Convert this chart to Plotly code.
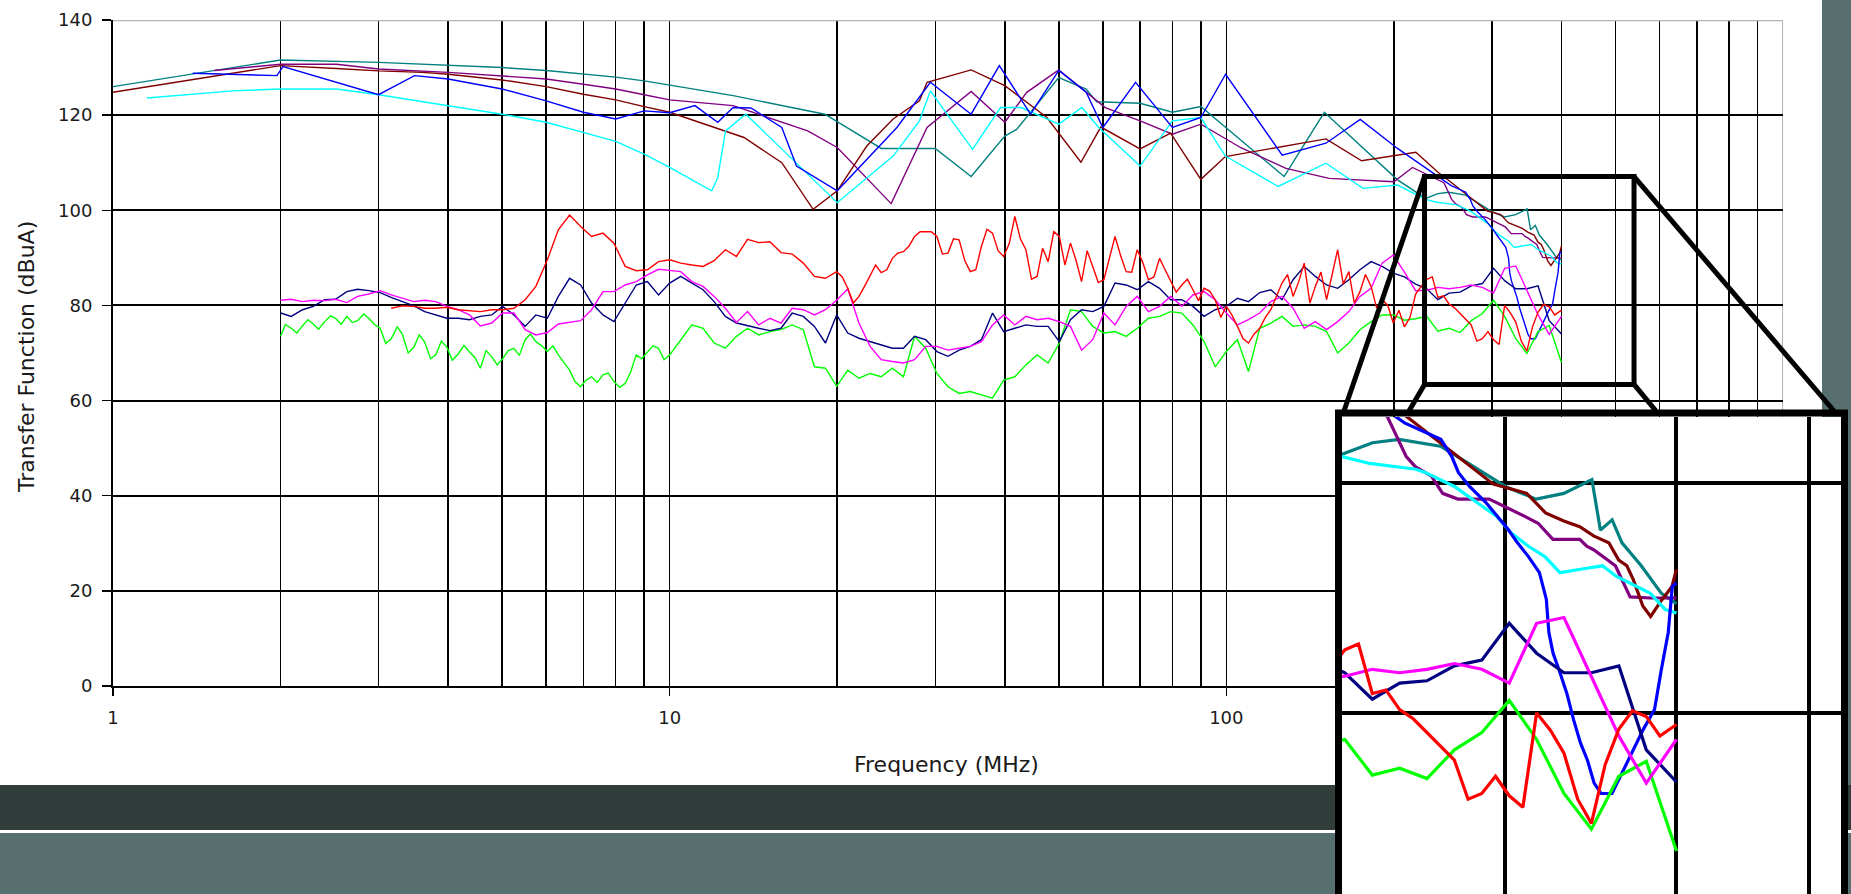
import math
import plotly.graph_objects as go

# ------------------------------------------------------------------ data
# common frequency grid (MHz) of the four measured (noisy) curves
FREQ_NOISY = [
    2.00, 2.09, 2.19, 2.29, 2.40, 2.51, 2.63, 2.75, 2.88, 3.02,
    3.16, 3.31, 3.47, 3.63, 3.80, 3.98, 4.17, 4.37, 4.57, 4.79,
    5.01, 5.25, 5.50, 5.75, 6.03, 6.31, 6.61, 6.92, 7.24, 7.59,
    7.94, 8.32, 8.71, 9.12, 9.55, 10.0,
    10.47, 10.96, 11.48, 12.02, 12.59, 13.18, 13.80, 14.45, 15.14, 15.85,
    16.60, 17.38, 18.20, 19.05, 19.95, 20.89, 21.88, 22.91, 23.99, 25.12,
    26.30, 27.54, 28.84, 30.20, 31.62, 33.11, 34.67, 36.31, 38.02, 39.81,
    41.69, 43.65, 45.71, 47.86, 50.12, 52.48, 54.95, 57.54, 60.26, 63.10,
    66.07, 69.18, 72.44, 75.86, 79.43, 83.18, 87.10, 91.20, 95.50, 100.0,
    104.7, 109.6, 114.8, 120.2, 125.9, 131.8, 138.0, 144.5, 151.4, 158.5,
    166.0, 173.8, 182.0, 190.5, 199.5, 208.9, 218.8, 229.1, 239.9, 251.2,
    263.0, 275.4, 288.4, 302.0, 316.2, 331.1, 346.7, 363.1, 380.2, 400.0,
]
# in-between frequencies where extra readings were taken (MHz)
FREQ_MID = [
    2.04, 2.14, 2.24, 2.34, 2.46, 2.57, 2.69, 2.82, 2.95, 3.09,
    3.24, 3.39, 3.55, 3.72, 3.89, 4.07, 4.27, 4.47, 4.68, 4.90,
    5.13, 5.37, 5.62, 5.89, 6.17, 6.46, 6.76, 7.08, 7.41, 7.76,
    8.13, 8.51, 8.91, 9.33, 9.77,
    10.23, 10.72, 11.22, 11.75, 12.30, 12.88, 13.49, 14.13, 14.79, 15.49,
    16.22, 16.98, 17.78, 18.62, 19.50, 20.42, 21.38, 22.39, 23.44, 24.55,
    25.70, 26.92, 28.18, 29.51, 30.90, 32.36, 33.88, 35.48, 37.15, 38.90,
    40.74, 42.66, 44.67, 46.77, 48.98, 51.29, 53.70, 56.23, 58.88, 61.66,
    64.57, 67.61, 70.79, 74.13, 77.62, 81.28, 85.11, 89.13, 93.33, 97.72,
    102.3, 107.2, 112.2, 117.5, 123.0, 128.8, 134.9, 141.3, 147.9, 154.9,
    162.2, 169.8, 177.8, 186.2, 195.0, 204.2, 213.8, 223.9, 234.4, 245.5,
    257.0, 269.2, 281.8, 295.1, 309.0, 323.6, 338.8, 354.8, 371.5, 389.0,
]

NAVY_DB = [
    78.4, 77.7, 79.1, 79.8, 81.2, 81.3, 82.9, 83.4, 83.1, 82.7,
    81.7, 80.8, 79.9, 78.7, 78.0, 77.3, 77.3, 77.0, 77.7, 78.0,
    79.8, 78.0, 75.6, 78.0, 77.3, 81.9, 85.7, 84.3, 80.5, 78.0,
    76.6, 80.5, 84.3, 85.0, 82.2, 84.7, 86.1, 84.7, 83.3, 80.8,
    77.7, 76.3, 75.7, 75.2, 74.7, 75.2, 78.4, 77.7, 75.6, 72.1,
    78.0,
    74.2, 73.1, 72.4, 71.7, 71.0, 71.0, 73.5, 72.8, 70.3, 69.3,
    70.6, 71.4, 72.8, 78.4, 74.5, 75.2, 75.9, 75.6, 75.6, 72.4,
    77.0, 79.1, 78.7, 79.8, 84.7, 84.3, 83.3, 85.0, 83.6, 81.2,
    81.2, 79.8, 77.7, 79.1, 79.8, 81.5, 80.8, 82.7, 83.3, 81.2,
    85.4, 88.2, 86.1, 84.3, 83.6, 85.4, 87.5, 89.2, 88.2, 86.8,
    86.0, 84.5, 83.5, 81.2, 82.6, 82.8, 84.1, 84.6, 87.8, 85.2,
    83.5, 83.5, 84.1, 76.8, 74.0,
]

MAGENTA_DB = [
    81.1, 81.3, 80.8, 81.1, 81.0, 81.3, 80.6, 81.9, 82.4, 83.1,
    82.2, 81.5, 80.8, 81.1, 80.8, 79.8, 79.1, 78.0, 75.7, 76.3,
    78.4, 78.4, 74.9, 73.8, 74.3, 76.1, 76.4, 76.8, 79.1, 82.9,
    82.9, 84.3, 85.0, 86.4, 87.6, 87.3, 87.1, 85.0, 84.0, 81.9,
    79.4, 76.4, 78.7, 75.9, 77.3, 76.3, 79.4, 79.1, 78.0, 79.1,
    81.1,
    83.5, 76.3, 71.4, 68.6, 68.2, 67.9, 68.6, 71.4, 71.4, 70.6,
    71.0, 71.4, 72.4, 75.9, 78.0, 75.9, 77.7, 77.0, 77.3, 76.6,
    75.6, 70.6, 72.8, 78.4, 75.9, 79.8, 81.9, 78.7, 79.8, 81.9,
    79.8, 82.2, 82.9, 81.2, 78.4, 75.9, 77.0, 78.4, 80.8, 81.9,
    79.4, 75.2, 76.6, 74.9, 76.6, 78.7, 81.9, 83.6, 88.9, 90.6,
    87.0, 83.1, 83.2, 83.8, 83.5, 83.8, 84.3, 83.8, 82.6, 87.8,
    88.3, 83.2, 78.0, 73.9, 77.7,
]

RED_DB = [
    None, None, None, None, None, None, None, None, None, None,
    79.4, 79.9, 79.8, 79.4, 79.4, 79.6, 79.1, 78.9, 78.7, 79.1,
    79.1, 79.4, 81.2, 84.0, 89.6, 95.9, 99.0, 96.6, 94.5, 95.2,
    93.1, 88.2, 87.3, 87.5, 89.2, 89.6, 88.9, 88.5, 88.2, 89.4,
    91.7, 90.3, 93.9, 93.2, 93.4, 91.1, 90.8, 88.9, 86.1, 85.7,
    87.1,
    83.6, 81.9, 86.1, 86.9, 89.9, 91.3, 94.5, 95.5, 94.5, 91.0,
    93.8, 87.1, 92.4, 95.2, 90.3, 98.7, 91.7, 86.1, 89.2, 94.5,
    93.1, 85.0, 88.2, 85.4, 94.5, 87.1, 91.7, 85.4, 89.9, 85.0,
    84.3, 83.3, 83.6, 81.2, 79.8, 75.6, 72.1, 75.2, 79.1, 84.7,
    81.9, 88.9, 84.0, 81.2, 91.7, 87.1, 82.9, 84.0, 81.2, 76.3,
    75.5, 82.4, 85.5, 81.7, 80.3, 78.3, 75.9, 73.0, 72.8, 80.0,
    76.5, 70.4, 78.6, 79.7, 79.0,
]
RED_MID_DB = [
    None, None, None, None, None, None, None, None, None, None,
    None, None, None, None, None, None, None, None, None, None,
    None, None, None, None, None, None, None, None, None, None,
    None, None, None, None, None,
    None, None, None, None, None, None, None, None, None, None,
    None, None, None, None, None, 86.0, 80.5, 84.0, 88.5, 87.5,
    91.0, 92.5, 95.5, 95.5, 90.8, 94.0, 89.5, 87.5, 96.0, 91.5,
    93.0, 94.0, 85.5, 92.0, 95.5, 88.5, 89.5, 91.5, 84.8, 90.0,
    90.5, 87.0, 89.0, 86.0, 87.5, 82.8, 85.5, 81.0, 83.0, 77.5,
    78.0, 73.0, 74.0, 77.5, 82.0, 86.5, 85.0, 80.5, 87.0, 86.5,
    84.5, 80.5, 86.5, 79.5, 80.0, 79.0, 77.5, 84.0, 86.0, 82.0,
    79.5, 77.0, 72.5, 74.5, 71.8, 78.5, 72.5, 75.5, 80.2, 78.0,
]

GREEN_DB = [
    73.5, 75.2, 75.7, 76.1, 76.6, 77.3, 77.7, 76.8, 77.3, 75.2,
    73.0, 74.0, 71.2, 72.3, 69.6, 71.2, 69.8, 70.2, 66.8, 69.2,
    68.8, 71.0, 72.8, 72.4, 70.3, 69.6, 66.4, 62.9, 65.0, 65.4,
    64.0, 63.6, 69.6, 70.1, 71.0, 69.6, 72.8, 75.9, 75.2, 72.1,
    71.0, 73.5, 75.2, 73.8, 74.5, 74.9, 75.9, 74.9, 67.1, 66.8,
    63.0,
    66.4, 64.7, 65.7, 65.0, 66.8, 65.0, 73.5, 71.0, 65.7, 62.9,
    61.5, 61.9, 61.2, 60.5, 64.3, 65.0, 67.5, 69.6, 67.9, 72.1,
    79.1, 78.7, 75.6, 74.2, 74.5, 73.5, 75.2, 77.3, 77.7, 78.7,
    78.4, 75.9, 72.4, 67.1, 70.3, 72.8, 66.1, 75.2, 76.3, 77.7,
    75.6, 75.9, 75.6, 74.5, 70.0, 72.1, 74.9, 76.6, 78.0, 78.0,
    76.9, 77.2, 77.7, 74.6, 75.2, 74.3, 76.8, 78.3, 81.1, 77.7,
    73.0, 69.9, 74.5, 75.8, 68.0,
]
GREEN_MID_DB = [
    76.0, 74.2, 77.0, 75.0, 77.8, 76.0, 76.4, 78.2, 76.0, 72.0,
    75.5, 70.0, 73.8, 68.8, 72.5, 68.5, 71.6, 69.0, 70.5, 67.5,
    70.5, 69.5, 74.0, 71.5, 71.5, 68.0, 64.0, 64.3, 63.8, 65.8,
    62.8, 66.0, 68.8, 71.5, 68.6,
    None, None, None, None, None, None, None, None, None, None,
    None, None, None, None, None, None, None, None, None, None,
    None, None, None, None, None, None, None, None, None, None,
    None, None, None, None, None, None, None, None, None, None,
    None, None, None, None, None, None, None, None, None, None,
    None, None, None, None, None, None, None, None, None, None,
    None, None, None, None, None, None, None, None, None, None,
    None, None, None, None, None, None, None, None, None, None,
]

# calculated (smooth) curves, each with its own frequency points (MHz)
TEAL_F = [1, 2, 3, 4, 5, 6, 7, 8, 9, 10, 13, 19, 24, 30, 34.8, 40, 42, 50, 56,
          58.5, 70, 80, 90, 127, 150, 203, 228, 240, 251, 269, 282, 300, 316,
          331, 347, 352, 359, 365, 377, 390, 400]
TEAL_DB = [126.0, 131.6, 131.1, 130.5, 130.0, 129.4, 128.7, 128.0, 127.2, 126.3,
           124.1, 120.2, 113.0, 113.0, 107.1, 115.6, 117.0, 127.9, 125.5, 122.8,
           122.5, 120.6, 121.8, 107.1, 120.6, 106.4, 102.5, 103.5, 103.8, 103.2,
           101.7, 99.7, 98.6, 99.1, 100.3, 95.9, 96.8, 94.8, 92.8, 90.4, 89.5]

MAROON_F = [1, 2, 2.52, 3, 3.6, 4, 5, 6, 7, 8, 9, 10, 13.6, 15.9, 18.1, 20, 22.6,
            25.2, 28.1, 29, 34.8, 40, 47.6, 54.8, 59.5, 70, 79.4, 90, 99.6, 151,
            175, 219, 240, 254, 294, 300, 311, 321, 331, 340, 348, 357, 363, 368,
            372, 378, 383, 389, 397, 400]
MAROON_DB = [124.8, 130.4, 129.8, 129.3, 129.0, 128.6, 127.4, 126.0, 124.4, 123.2,
             121.8, 120.6, 115.3, 110.0, 100.2, 104.1, 113.5, 119.2, 123.0, 126.9,
             129.5, 126.2, 119.5, 110.1, 117.5, 112.9, 116.2, 106.5, 111.3, 115.0,
             110.4, 112.2, 108.0, 105.8, 99.9, 99.6, 99.1, 97.4, 96.7, 96.2,
             95.4, 94.8, 93.3, 92.8, 91.6, 89.3, 88.4, 89.6, 91.0, 92.5]

PURPLE_F = [1.52, 2, 2.52, 3, 4, 5, 6, 7, 8, 9, 10, 13, 17.7, 20, 25, 29, 34.8, 40,
            43.8, 50, 56, 60.6, 70, 80, 90, 106, 128, 153, 200, 216, 246, 254, 258,
            265, 270, 277, 292, 303, 310, 317, 325, 340, 344, 348, 361, 370, 383, 400]
PURPLE_DB = [129.4, 130.7, 130.7, 129.7, 129.0, 128.3, 127.6, 126.5, 125.5, 124.3,
             123.2, 122.0, 116.7, 113.2, 101.4, 117.4, 125.0, 118.5, 124.8, 129.5,
             124.8, 121.6, 118.8, 116.0, 118.1, 113.2, 108.8, 106.7, 106.0, 109.0,
             105.8, 102.3, 101.4, 100.6, 99.1, 98.6, 98.6, 97.7, 97.1, 96.5,
             95.1, 95.1, 94.5, 94.2, 92.8, 90.1, 90.0, 90.0]

BLUE_F = [1.39, 1.97, 2.02, 3, 3.48, 4, 5, 6, 7, 8, 9, 10, 11.1, 12.2, 13.0, 14.0,
          15.9, 16.9, 20, 25.6, 29.4, 34.8, 39.1, 44.5, 50, 56, 60, 68.7, 80, 90,
          99.7, 126, 151, 174, 203, 236, 253.5, 269.2, 274.2, 277.3, 282.5, 290.4,
          297.8, 301.3, 306.2, 311.9, 317.7, 321.4, 322.8, 325.1, 328.9, 332.7,
          336.5, 340.4, 344.4, 348.3, 352.4, 358.9, 378.4, 385.5, 390.0, 394.5,
          397.2, 400]
BLUE_DB = [128.8, 128.3, 130.2, 124.3, 128.3, 127.6, 125.5, 123.0, 120.6, 119.2,
           120.9, 120.5, 122.0, 118.5, 121.6, 121.5, 117.4, 109.3, 104.1, 117.4,
           126.9, 120.2, 130.4, 120.2, 129.4, 124.8, 117.4, 126.9, 117.4, 119.5,
           128.6, 111.6, 114.1, 119.1, 113.0, 107.8, 105.2, 103.8, 102.3, 100.9,
           99.7, 98.3, 96.8, 96.0, 94.8, 93.6, 92.2, 89.9, 87.0, 85.2,
           83.5, 81.7, 79.4, 77.4, 75.9, 73.9, 73.0, 73.0, 78.6, 80.3,
           83.8, 87.0, 91.0, 91.3]

CYAN_F = [1.15, 1.64, 2, 2.52, 3, 4, 5, 6, 7, 8, 9, 10, 11.9, 12.2, 12.6, 13.7, 20,
          25.2, 28.1, 29.4, 35, 39.3, 42.8, 50, 55, 59, 70, 80, 90, 99.6, 124, 151,
          176, 203, 228, 238.8, 258.2, 262.4, 269.2, 275.4, 288.4, 295.8, 302.7,
          311.9, 320.6, 328.9, 340.4, 353.2, 361.4, 369.8, 382.8, 392.6, 400]
CYAN_DB = [123.6, 125.1, 125.5, 125.5, 124.3, 122.0, 120.2, 118.5, 116.4, 114.5,
           111.8, 109.0, 104.1, 106.9, 116.7, 120.2, 101.6, 111.4, 118.8, 125.1,
           112.8, 121.6, 121.6, 118.1, 121.6, 117.4, 109.3, 118.8, 119.5, 111.4,
           105.0, 109.9, 104.6, 105.3, 102.3, 101.7, 101.2, 100.9, 100.3, 99.7,
           98.0, 97.1, 95.7, 94.5, 93.6, 92.2, 92.5, 92.8, 91.9, 91.3,
           90.4, 89.0, 88.7]

X_TICKS = [1, 10, 100]
X_TICK_TEXT = ["1", "10", "100"]
X_MINOR = [2, 3, 4, 5, 6, 7, 8, 9, 20, 30, 40, 50, 60, 70, 80, 90,
           200, 300, 400, 500, 600, 700, 800, 900]
Y_TICKS = [0, 20, 40, 60, 80, 100, 120, 140]

# zoom window shown magnified in the inset
RECT_F = [227, 540]
RECT_DB = [63.4, 107.1]
INSET_F = [228.0, 527.4]
INSET_DB = [64.26, 105.74]
INSET_XGRID = [300, 400, 500]
INSET_YGRID = [80, 100]

# ------------------------------------------------------------------ layout geometry
W, H = 1851, 894
FONT = "DejaVu Sans"
X_DOM = [113 / W, 1783 / W]
Y_DOM = [1 - 686 / H, 1 - 20 / H]
X_RANGE = [0, 3]
Y_RANGE = [0, 140]
IX_DOM = [1342 / W, 1841 / W]
IY_DOM = [0, 1 - 417 / H]


def px(x):
    return x / W


def py(y):
    return 1 - y / H


def main_to_paper(f, db):
    fx = (math.log10(f) - X_RANGE[0]) / (X_RANGE[1] - X_RANGE[0])
    fy = (db - Y_RANGE[0]) / (Y_RANGE[1] - Y_RANGE[0])
    return (X_DOM[0] + fx * (X_DOM[1] - X_DOM[0]),
            Y_DOM[0] + fy * (Y_DOM[1] - Y_DOM[0]))


def merge(main_db, mid_db=None):
    """Combine the readings on the main grid with the in-between readings."""
    pts = [(f, v) for f, v in zip(FREQ_NOISY, main_db) if v is not None]
    if mid_db is not None:
        pts += [(f, v) for f, v in zip(FREQ_MID, mid_db) if v is not None]
    pts.sort()
    return [p[0] for p in pts], [p[1] for p in pts]


green_f, green_db = merge(GREEN_DB, GREEN_MID_DB)
navy_f, navy_db = merge(NAVY_DB)
magenta_f, magenta_db = merge(MAGENTA_DB)
red_f, red_db = merge(RED_DB, RED_MID_DB)

series = [
    ("teal", TEAL_F, TEAL_DB, "#008080"),
    ("purple", PURPLE_F, PURPLE_DB, "#800080"),
    ("maroon", MAROON_F, MAROON_DB, "#800000"),
    ("cyan", CYAN_F, CYAN_DB, "#00FFFF"),
    ("blue", BLUE_F, BLUE_DB, "#0000FF"),
    ("green", green_f, green_db, "#00FF00"),
    ("navy", navy_f, navy_db, "#000080"),
    ("magenta", magenta_f, magenta_db, "#FF00FF"),
    ("red", red_f, red_db, "#FF0000"),
]

fig = go.Figure()
for name, xs, ys, col in series:
    fig.add_trace(go.Scatter(x=xs, y=ys, mode="lines", name=name,
                             line=dict(color=col, width=1.4),
                             xaxis="x", yaxis="y", hoverinfo="skip"))
for name, xs, ys, col in series:
    fig.add_trace(go.Scatter(x=xs, y=ys, mode="lines", name=name + " (zoom)",
                             line=dict(color=col, width=3.2),
                             xaxis="x2", yaxis="y2", hoverinfo="skip"))

tick_font = dict(family=FONT, size=18, color="#1a1a1a")

shapes = []
# slate decoration bands
shapes.append(dict(type="rect", xref="paper", yref="paper", layer="below",
                   x0=0, x1=1, y0=py(830), y1=py(785),
                   fillcolor="#303d3b", line=dict(width=0)))
shapes.append(dict(type="rect", xref="paper", yref="paper", layer="below",
                   x0=0, x1=1, y0=0, y1=py(833),
                   fillcolor="#586f6f", line=dict(width=0)))
shapes.append(dict(type="rect", xref="paper", yref="paper", layer="below",
                   x0=px(1822), x1=1, y0=py(785), y1=1,
                   fillcolor="#586f6f", line=dict(width=0)))
# light grey plot frame (top / right)
shapes.append(dict(type="line", xref="x", yref="y", layer="above",
                   x0=1, x1=1000, y0=140, y1=140,
                   line=dict(color="#b4b4b4", width=2.5)))
shapes.append(dict(type="line", xref="x", yref="y", layer="below",
                   x0=1000, x1=1000, y0=0, y1=140,
                   line=dict(color="#b4b4b4", width=2)))
# zoom rectangle on the main chart
shapes.append(dict(type="rect", xref="x", yref="y", layer="above",
                   x0=RECT_F[0], x1=RECT_F[1], y0=RECT_DB[0], y1=RECT_DB[1],
                   line=dict(color="black", width=5), fillcolor="rgba(0,0,0,0)"))
# callout lines from the rectangle corners to the magnified box
corner_targets = [
    ((RECT_F[0], RECT_DB[1]), 1344),
    ((RECT_F[0], RECT_DB[0]), 1409),
    ((RECT_F[1], RECT_DB[1]), 1834),
    ((RECT_F[1], RECT_DB[0]), 1656),
]
for (cf, cdb), tx in corner_targets:
    x0, y0 = main_to_paper(cf, cdb)
    shapes.append(dict(type="line", xref="paper", yref="paper", layer="above",
                       x0=x0, y0=y0, x1=px(tx), y1=py(411),
                       line=dict(color="black", width=5)))
# frame of the magnified box
shapes.append(dict(type="rect", xref="paper", yref="paper", layer="above",
                   x0=px(1338.5), x1=px(1844.5), y0=-0.05, y1=py(413),
                   line=dict(color="black", width=7), fillcolor="rgba(0,0,0,0)"))

fig.update_layout(
    autosize=True,
    margin=dict(l=0, r=0, t=0, b=0, autoexpand=False),
    paper_bgcolor="white", plot_bgcolor="white",
    showlegend=False,
    font=dict(family=FONT, color="#1a1a1a"),
    xaxis=dict(type="log", range=X_RANGE, domain=X_DOM, anchor="y",
               tickvals=X_TICKS, ticktext=X_TICK_TEXT, tickfont=tick_font,
               ticks="outside", ticklen=8, tickwidth=1.5, tickcolor="black",
               ticklabelstandoff=6,
               showgrid=True, gridcolor="black", gridwidth=1.5,
               minor=dict(tickvals=X_MINOR, showgrid=True, gridcolor="black",
                          gridwidth=1.5, ticks=""),
               showline=True, linecolor="black", linewidth=2,
               zeroline=False, fixedrange=True),
    yaxis=dict(range=Y_RANGE, domain=Y_DOM, anchor="x",
               tickvals=Y_TICKS, tickfont=tick_font,
               ticks="outside", ticklen=9, tickwidth=1.5, tickcolor="black",
               ticklabelstandoff=6,
               showgrid=True, gridcolor="black", gridwidth=2,
               showline=True, linecolor="black", linewidth=2,
               zeroline=False, fixedrange=True),
    xaxis2=dict(type="log", range=[math.log10(INSET_F[0]), math.log10(INSET_F[1])],
                domain=IX_DOM, anchor="y2", tickvals=INSET_XGRID,
                showticklabels=False, ticks="",
                showgrid=True, gridcolor="black", gridwidth=4,
                showline=False, zeroline=False, fixedrange=True),
    yaxis2=dict(range=INSET_DB, domain=IY_DOM, anchor="x2", tickvals=INSET_YGRID,
                showticklabels=False, ticks="",
                showgrid=True, gridcolor="black", gridwidth=4,
                showline=False, zeroline=False, fixedrange=True),
    shapes=shapes,
    annotations=[
        dict(text="Frequency (MHz)", xref="paper", yref="paper",
             x=px(946), y=py(764), xanchor="center", yanchor="middle",
             showarrow=False, font=dict(family=FONT, size=22, color="#1a1a1a")),
        dict(text="Transfer Function (dBuA)", xref="paper", yref="paper",
             x=px(26), y=py(357), xanchor="center", yanchor="middle",
             textangle=-90, showarrow=False,
             font=dict(family=FONT, size=22, color="#1a1a1a")),
    ],
)

# the graph div is pinned to the page origin at exactly the window size
fig.write_html("out.html",
               config={"displayModeBar": False, "staticPlot": True},
               default_width="%dpx; position:absolute; left:0; top:0" % W,
               default_height="%dpx" % H,
               post_script="document.body.style.margin='0';"
                           "document.body.style.overflow='hidden';")
